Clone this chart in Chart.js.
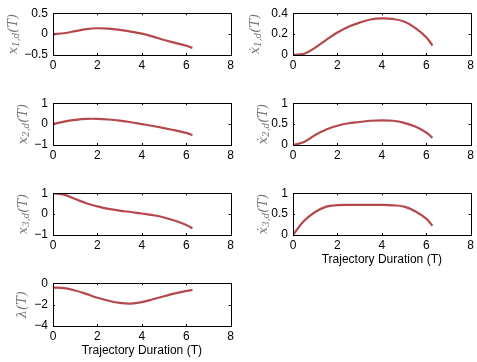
<!DOCTYPE html>
<html>
<head>
<meta charset="utf-8">
<script src="https://cdn.jsdelivr.net/npm/chart.js@4"></script>
<style>
    html, body { margin: 0; padding: 0; background: #fff; overflow: hidden; }
    #wrap { position: relative; width: 477px; height: 362px; }
    #wrap canvas { position: absolute; }
</style>
</head>
<body>
<div id="wrap"></div>
<script>
//--------------------------------------DATOS
var tiempo = [0, 0.5, 1, 1.5, 2, 2.5, 3, 3.5, 4, 4.5, 5, 5.5, 6, 6.28];
var x1d = [0, 0.02, 0.07, 0.12, 0.14, 0.13, 0.1, 0.06, 0.01, -0.06, -0.14, -0.21, -0.28, -0.33];
var x1dPunto = [0, 0.012, 0.07, 0.145, 0.215, 0.27, 0.31, 0.34, 0.35, 0.345, 0.32, 0.26, 0.17, 0.09];
var x2d = [0, 0.12, 0.2, 0.25, 0.25, 0.22, 0.17, 0.09, 0.0, -0.09, -0.19, -0.3, -0.42, -0.53];
var x2dPunto = [0, 0.07, 0.24, 0.37, 0.46, 0.52, 0.55, 0.58, 0.59, 0.58, 0.53, 0.44, 0.3, 0.17];
var x3d = [1.0, 0.93, 0.72, 0.52, 0.37, 0.25, 0.17, 0.1, 0.03, -0.05, -0.16, -0.32, -0.52, -0.68];
var x3dPunto = [0, 0.34, 0.55, 0.68, 0.715, 0.72, 0.72, 0.72, 0.72, 0.71, 0.68, 0.57, 0.39, 0.22];
var lambda = [-0.41, -0.46, -0.68, -1.0, -1.36, -1.64, -1.84, -1.9, -1.77, -1.5, -1.22, -0.95, -0.73, -0.63];
var ticksX = [0, 2, 4, 6, 8];
var tituloX = "Trajectory Duration (T)";

var colorLinea = "#b5484c";

//--------------------------------------PLUGIN caja, ticks y etiqueta y
var cajaPlugin = {
    id: 'caja',
    afterDraw: function (chart) {
        var ctx = chart.ctx;
        var a = chart.chartArea;
        var sx = chart.scales.x, sy = chart.scales.y;
        ctx.save();
        ctx.strokeStyle = "#000";
        ctx.lineWidth = 1;
        ctx.strokeRect(Math.round(a.left) + 0.5, Math.round(a.top) + 0.5, Math.round(a.right - a.left), Math.round(a.bottom - a.top));
        ctx.beginPath();
        sx.ticks.forEach(function (t) {
            var px = Math.round(sx.getPixelForValue(t.value)) + 0.5;
            ctx.moveTo(px, a.bottom); ctx.lineTo(px, a.bottom - 2);
            ctx.moveTo(px, a.top); ctx.lineTo(px, a.top + 2);
        });
        sy.ticks.forEach(function (t) {
            var py = Math.round(sy.getPixelForValue(t.value)) + 0.5;
            ctx.moveTo(a.left, py); ctx.lineTo(a.left + 2, py);
            ctx.moveTo(a.right, py); ctx.lineTo(a.right - 2, py);
        });
        ctx.stroke();

        // etiqueta y con subindices
        var e = chart.options.plugins.caja;
        var partes = [
            {t: e.base, f: "italic 13px 'DejaVu Serif'", dy: 0},
            {t: e.sub, f: "italic 9px 'DejaVu Serif'", dy: 3},
            {t: "(T)", f: "italic 13px 'DejaVu Serif'", dy: 0}
        ];
        var total = 0;
        partes.forEach(function (p) { ctx.font = p.f; p.w = ctx.measureText(p.t).width; total += p.w; });
        ctx.translate(e.lx, (a.top + a.bottom) / 2);
        ctx.rotate(-Math.PI / 2);
        ctx.fillStyle = "#777";
        ctx.textBaseline = "middle";
        var x = -total / 2;
        partes.forEach(function (p) {
            ctx.font = p.f;
            ctx.fillText(p.t, x, p.dy);
            x += p.w;
        });
        ctx.restore();
    }
};

function menos(v) {
    return String(v).replace('-', '\u2212');
}

function grafica(cfg) {
    var cv = document.createElement('canvas');
    var ancho = 50 + cfg.w + 1;
    var altoX = cfg.titulo ? 34 : 20;
    var alto = 6 + cfg.h + altoX;
    cv.width = ancho;
    cv.height = alto;
    cv.style.left = (cfg.left - 50) + "px";
    cv.style.top = (cfg.top - 6) + "px";
    cv.style.width = ancho + "px";
    cv.style.height = alto + "px";
    document.getElementById('wrap').appendChild(cv);

    var puntos = tiempo.map(function (t, i) { return {x: t, y: cfg.datos[i]}; });

    new Chart(cv, {
        type: 'line',
        data: {
            datasets: [{
                data: puntos,
                borderColor: colorLinea,
                borderWidth: 2.2,
                pointRadius: 0,
                tension: 0.4,
                fill: false
            }]
        },
        options: {
            responsive: false,
            animation: false,
            events: [],
            layout: {padding: {top: 6, right: 1, left: 0, bottom: 0}},
            plugins: {
                legend: {display: false},
                tooltip: {enabled: false},
                caja: {base: cfg.base, sub: cfg.sub, lx: cfg.lx - (cfg.left - 50)}
            },
            scales: {
                x: {
                    type: 'linear',
                    min: 0, max: 8,
                    afterBuildTicks: function (s) { s.ticks = ticksX.map(function (v) { return {value: v}; }); },
                    afterFit: function (s) { s.height = altoX; },
                    grid: {display: false, drawTicks: false},
                    border: {display: false},
                    ticks: {color: '#000', padding: 3, maxRotation: 0, font: {family: "'Liberation Sans', Arial", size: 12}},
                    title: {
                        display: !!cfg.titulo,
                        text: tituloX,
                        color: '#000',
                        font: {family: "'Liberation Sans', Arial", size: 12},
                        padding: {top: 0, bottom: 2}
                    }
                },
                y: {
                    min: cfg.ymin, max: cfg.ymax,
                    afterBuildTicks: function (s) { s.ticks = cfg.ticksY.map(function (v) { return {value: v}; }); },
                    afterFit: function (s) { s.width = 50; },
                    grid: {display: false, drawTicks: false},
                    border: {display: false},
                    ticks: {
                        color: '#000', padding: 5,
                        font: {family: "'Liberation Sans', Arial", size: 12},
                        callback: function (v) { return menos(v); }
                    }
                }
            }
        },
        plugins: [cajaPlugin]
    });
}

var ticksY1 = [-0.5, 0, 0.5];
var ticksY2 = [0, 0.2, 0.4];
var ticksY3 = [-1, 0, 1];
var ticksY4 = [0, 0.5, 1];
var ticksY7 = [-4, -2, 0];

grafica({left: 53, top: 7, w: 183, h: 48, datos: x1d, ymin: -0.5, ymax: 0.5, ticksY: ticksY1, base: "x", sub: "1,d", lx: 14});
grafica({left: 293, top: 7, w: 183, h: 48, datos: x1dPunto, ymin: 0, ymax: 0.4, ticksY: ticksY2, base: "\u1E8B", sub: "1,d", lx: 256});
grafica({left: 53, top: 97, w: 183, h: 48, datos: x2d, ymin: -1, ymax: 1, ticksY: ticksY3, base: "x", sub: "2,d", lx: 24});
grafica({left: 293, top: 97, w: 183, h: 48, datos: x2dPunto, ymin: 0, ymax: 1, ticksY: ticksY4, base: "\u1E8B", sub: "2,d", lx: 264});
grafica({left: 53, top: 187, w: 183, h: 48, datos: x3d, ymin: -1, ymax: 1, ticksY: ticksY3, base: "x", sub: "3,d", lx: 24});
grafica({left: 293, top: 187, w: 183, h: 48, datos: x3dPunto, ymin: 0, ymax: 1, ticksY: ticksY4, base: "\u1E8B", sub: "3,d", lx: 264, titulo: true});
grafica({left: 53, top: 277, w: 183, h: 49, datos: lambda, ymin: -4, ymax: 0, ticksY: ticksY7, base: "\u03BB", sub: "", lx: 23, titulo: true});
</script>
</body>
</html>
